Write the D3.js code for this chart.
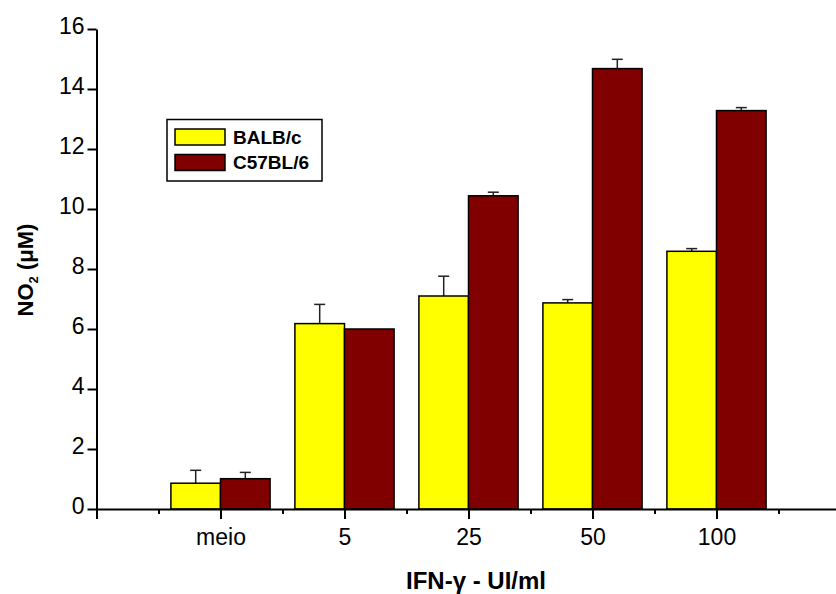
<!DOCTYPE html>
<html lang="en">
<head>
<meta charset="utf-8">
<title>NO2 - IFN-gamma</title>
<script type="text/javascript" src="https://d3js.org/d3.v7.min.js"></script>
<style>
body { margin: 0; background: #fff; }
text { font-family: Arial, "Liberation Sans", sans-serif; fill: #000; }
.tick text { font-size: 23px; }
.axis path, .axis line { stroke: #000; stroke-width: 2px; }
.bar { stroke: #000; stroke-width: 1.5px; }
.err { stroke: #222; stroke-width: 1.5px; fill: none; }
.title { font-weight: bold; }
</style>
</head>
<body>
<div id="chart"></div>
<script type="text/javascript">

// data
var categories = ["meio", "5", "25", "50", "100"];
var balb = [0.86, 6.18, 7.10, 6.87, 8.59];
var balbErr = [0.43, 0.64, 0.66, 0.11, 0.09];
var c57 = [1.01, 6.00, 10.44, 14.68, 13.28];
var c57Err = [0.21, 0.0, 0.12, 0.31, 0.10];
var seriesNames = ["BALB/c", "C57BL/6"];
var seriesColors = ["#ffff00", "#800000"];
var yTicks = [0, 2, 4, 6, 8, 10, 12, 14, 16];

var w = 836;
var h = 594;

var svg = d3.select("div#chart").append("svg")
  .attr("width", w)
  .attr("height", h);

var x = d3.scaleLinear().domain([0, 6]).range([96.5, 840.5]);
var y = d3.scaleLinear().domain([0, 16]).range([509, 29]);
var barW = 0.4;

// bars ******************
var series = [
  { name: seriesNames[0], vals: balb, errs: balbErr, color: seriesColors[0], off: -barW },
  { name: seriesNames[1], vals: c57, errs: c57Err, color: seriesColors[1], off: 0 }
];

var barLayer = svg.append("g").attr("id", "bars");

series.forEach(function(s) {
  var rows = s.vals.map(function(v, i) { return { v: v, e: s.errs[i], i: i }; });

  var g = barLayer.append("g");

  // error bars, drawn first so the bar hides the lower half
  var eg = g.selectAll("g.eb").data(rows.filter(function(d) { return d.e > 0; }))
    .enter().append("g").attr("class", "eb");
  eg.append("line").attr("class", "err")
    .attr("x1", function(d) { return x(d.i + 1 + s.off + barW / 2); })
    .attr("x2", function(d) { return x(d.i + 1 + s.off + barW / 2); })
    .attr("y1", function(d) { return y(d.v); })
    .attr("y2", function(d) { return y(d.v + d.e); });
  eg.append("line").attr("class", "err")
    .attr("x1", function(d) { return x(d.i + 1 + s.off + barW / 2) - 5.5; })
    .attr("x2", function(d) { return x(d.i + 1 + s.off + barW / 2) + 5.5; })
    .attr("y1", function(d) { return y(d.v + d.e); })
    .attr("y2", function(d) { return y(d.v + d.e); });

  g.selectAll("rect").data(rows).enter().append("rect")
    .attr("class", "bar")
    .attr("x", function(d) { return x(d.i + 1 + s.off); })
    .attr("width", x(barW) - x(0))
    .attr("y", function(d) { return y(d.v); })
    .attr("height", function(d) { return y(0) - y(d.v); })
    .attr("fill", s.color);
});

// axes ******************
var yAxis = d3.axisLeft(y).tickValues(yTicks).tickSize(9).tickPadding(3).tickSizeOuter(0);
svg.append("g").attr("class", "axis")
  .attr("transform", "translate(" + x(0) + ",0)")
  .call(yAxis)
  .selectAll(".tick text").attr("dy", "0.2em");

var xAxis = d3.axisBottom(x)
  .tickValues([0, 1, 2, 3, 4, 5, 6])
  .tickFormat(function(d) { return categories[d - 1] || ""; })
  .tickSize(10).tickPadding(10).tickSizeOuter(0);
svg.append("g").attr("class", "axis")
  .attr("transform", "translate(0," + y(0) + ")")
  .call(xAxis);

// minor ticks between categories
svg.append("g").attr("class", "axis")
  .attr("transform", "translate(0," + y(0) + ")")
  .call(d3.axisBottom(x).tickValues([0.5, 1.5, 2.5, 3.5, 4.5, 5.5]).tickSize(5).tickFormat("").tickSizeOuter(0))
  .select(".domain").remove();

// titles
svg.append("text").attr("class", "title")
  .attr("x", 476).attr("y", 589)
  .attr("text-anchor", "middle")
  .style("font-size", "24px")
  .text("IFN-γ - UI/ml");

var yt = svg.append("text").attr("class", "title")
  .attr("transform", "translate(33,270) rotate(-90)")
  .attr("text-anchor", "middle")
  .style("font-size", "22px");
yt.append("tspan").text("NO");
yt.append("tspan").attr("dy", 5).style("font-size", "13px").text("2");
yt.append("tspan").attr("dy", -5).text(" (μM)");

// legend
var legend = svg.append("g").attr("id", "legend");
legend.append("rect")
  .attr("x", 167).attr("y", 119.5).attr("width", 155).attr("height", 61.5)
  .attr("fill", "#fff").attr("stroke", "#000").attr("stroke-width", 1.5);

var li = legend.selectAll("g.item").data(series).enter().append("g").attr("class", "item")
  .attr("transform", function(d, i) { return "translate(175," + (129 + i * 25.5) + ")"; });
li.append("rect")
  .attr("width", 50).attr("height", 16)
  .attr("fill", function(d) { return d.color; })
  .attr("stroke", "#000").attr("stroke-width", 1.5);
li.append("text")
  .attr("x", 58).attr("y", 14.5)
  .attr("class", "title")
  .style("font-size", "19px")
  .text(function(d) { return d.name; });

</script>
</body>
</html>
